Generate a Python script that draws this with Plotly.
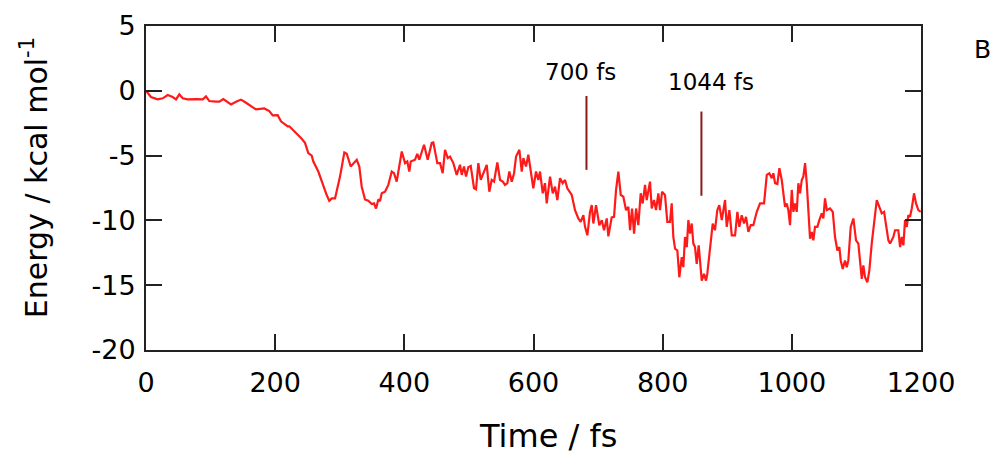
import plotly.graph_objects as go

# Time (fs) and energy (kcal/mol)
time_fs = [0, 7.7, 18.1, 25.9, 33.6, 41.3, 46.5, 51.6, 56.8, 64.6, 77.4, 87.8, 92.9, 98.0, 108.4, 113.5,
           119.7, 126.5, 131.6, 139.4, 147.1, 154.9, 162.6, 170.3, 183.2, 190.9, 196.2, 203.9, 209.0, 214.2,
           219.4, 221.9, 227.2, 234.9, 240.0,
           246.2, 251.3, 256.6, 259.1, 266.8, 274.6, 279.8, 283.8, 287.6, 292.7, 300.4, 307.1, 310.8, 317.0,
           321.0, 326.3, 330.3, 334.0, 339.1, 344.2, 349.5, 353.1, 356.2, 359.7, 362.4, 365.0, 370.1, 375.2,
           380.5, 384.0, 388.2, 396.0, 401.1, 404.6, 407.7, 409.9, 416.5, 420.1, 423.2, 430.5, 436.2, 442.4,
           444.9, 451.1, 455.3, 459.4, 463.0, 467.2, 470.7, 475.9, 481.1,
           486.2, 488.9, 492.4, 495.5, 499.1, 502.8, 507.9, 511.0, 514.6, 518.3, 523.4, 527.6, 531.6, 535.3,
           538.9, 544.0, 548.2, 552.4, 555.9, 559.5, 562.6, 566.3, 569.9, 573.0, 578.1, 581.8, 584.3, 588.4,
           592.0, 595.7, 599.7, 603.9, 607.5, 610.1, 614.3, 617.8, 620.5, 625.6, 629.8, 633.3, 636.9, 641.1,
           645.2, 648.8, 652.4, 659.2, 664.3, 669.4, 673.1, 677.2, 679.8, 683.4, 687.5, 690.2, 692.7, 696.8,
           701.9, 705.7, 709.2, 713.4, 715.9, 721.1, 724.7, 727.8, 731.4, 735.1, 739.1, 743.3, 746.9,
           749.5, 752.6, 755.7, 758.8, 762.3, 766.0, 769.1, 772.7, 775.3, 780.4, 783.1, 786.6, 789.7, 793.3,
           795.9, 799.0, 803.6, 807.2, 811.4, 814.0, 816.5, 819.2, 822.7, 825.8, 829.5, 832.0, 834.6, 837.3,
           839.8, 842.4, 845.0, 847.5, 850.1, 852.7, 855.8, 857.8, 860.5, 864.0, 867.1, 869.1, 873.3, 877.5,
           881.0, 884.6, 887.7, 891.5, 896.6, 899.2, 903.3, 907.0, 912.1, 915.7, 918.7, 922.4, 926.0, 929.1,
           932.7, 936.4, 940.4, 945.7, 950.8, 957.0, 961.2, 965.2, 968.9, 971.4, 974.0, 977.6, 980.7,
           984.4, 986.9, 989.5, 992.1, 994.6, 997.2, 999.9, 1002.4, 1005.0, 1007.6, 1010.1, 1012.7, 1015.4,
           1017.8, 1020.5, 1023.1, 1025.6, 1028.2, 1030.8, 1033.3, 1035.9, 1039.5, 1042.6, 1046.3, 1048.8,
           1051.4, 1054.1, 1059.2, 1063.4, 1066.9, 1070.5, 1073.6, 1075.7, 1078.8, 1082.4, 1085.0, 1087.5,
           1091.2, 1095.3, 1099.4, 1103.0, 1105.6, 1108.3, 1110.7, 1113.4, 1116.9, 1120.0, 1123.7, 1127.3,
           1131.5, 1135.5, 1139.2, 1142.8, 1145.9, 1149.5, 1152.1, 1157.2, 1159.8, 1164.9, 1167.6, 1170.2,
           1172.7, 1175.3, 1178.0, 1180.4, 1183.0, 1185.7, 1189.2, 1192.3, 1195.9, 1199.6]

energy = [0, -0.48, -0.66, -0.58, -0.33, -0.48, -0.66, -0.27, -0.58, -0.66, -0.64, -0.66, -0.43, -0.79, -0.84, -0.84,
          -0.64, -0.84, -1.05, -0.84, -0.68, -0.92, -1.18, -1.44, -1.36, -1.57, -1.90, -1.88, -2.35, -2.55,
          -2.74, -2.74, -2.99, -3.38, -3.64,
          -4.02, -4.80, -5.01, -5.46, -6.23, -7.40, -8.04, -8.49, -8.30, -8.30, -6.62, -4.76, -4.86, -5.84,
          -5.58, -5.32, -5.84, -7.40, -8.38, -8.48, -8.74, -8.69, -9.08, -8.38, -8.51, -7.91, -7.79, -7.26,
          -6.23, -6.36, -7.01, -4.68, -5.58, -5.45, -6.23, -5.45, -5.32, -4.86, -5.32, -4.16, -5.32, -4.02,
          -3.98, -5.58, -5.58, -6.36, -4.55, -5.19, -5.07, -5.58, -6.49,
          -5.71, -6.49, -5.84, -6.62, -5.89, -5.79, -7.52, -7.60, -5.58, -6.88, -6.23, -5.71, -7.79, -6.88,
          -7.01, -5.53, -6.88, -7.01, -7.26, -7.13, -6.23, -7.01, -6.36, -5.07, -4.55, -6.23, -5.19, -5.84,
          -4.93, -6.10, -7.52, -6.23, -6.88, -6.23, -7.91, -7.13, -8.69, -6.62, -7.91, -7.40, -8.43, -6.74,
          -7.13, -6.88, -7.52, -8.04, -9.21, -9.85, -10.12, -9.60, -10.50, -11.15, -9.34, -8.82, -10.24, -8.82,
          -10.37, -9.98, -10.76, -9.85, -11.23, -9.77, -9.73, -7.65, -6.23, -8.04, -8.17, -9.21, -8.95,
          -10.76, -9.08, -11.02, -9.08, -10.37, -7.91, -8.69, -7.26, -8.43, -7.01, -9.08, -8.43, -9.21, -7.91,
          -9.21, -7.79, -8.04, -10.12, -10.12, -8.69, -11.28, -12.18, -12.32, -14.39, -12.84, -13.61, -11.28, -12.06,
          -9.98, -11.02, -10.24, -11.79, -12.06, -13.35, -11.93, -13.09, -14.65, -14.13, -14.65, -14.13, -12.06, -10.24,
          -10.76, -9.21, -8.82, -9.98, -8.43, -10.50, -9.21, -11.15, -11.15, -9.34, -10.50, -9.60, -10.24, -9.73,
          -10.89, -10.37, -10.37, -9.34, -8.69, -8.69, -6.49, -6.36, -6.74, -6.36, -7.13, -7.19, -5.97,
          -6.88, -7.91, -8.95, -8.69, -9.21, -10.37, -7.65, -9.34, -8.69, -9.34, -7.13, -7.91, -6.88,
          -6.62, -5.58, -7.13, -8.95, -11.41, -10.89, -11.54, -10.50, -10.50, -9.98, -9.46, -9.85,
          -8.30, -9.21, -9.08, -9.34, -11.28, -12.32, -12.06, -13.09, -13.74, -13.09, -13.61, -13.09,
          -10.50, -9.85, -11.54, -11.79, -13.09, -14.51, -13.48, -14.39, -14.78, -13.87, -11.79, -9.98,
          -8.43, -8.95, -9.46, -9.34, -10.24, -11.54, -11.79, -11.28, -10.76, -10.76, -12.06, -11.28,
          -11.93, -9.98, -10.50, -9.60, -9.73, -9.08, -7.91, -8.69, -9.21, -9.34]

# Event markers
marker_times = [682, 860]
marker_top = [-0.4, -1.6]
marker_bottom = [-6.1, -8.1]
marker_labels = ["700 fs", "1044 fs"]
marker_label_x = [672, 875]
marker_label_y = [1.45, 0.65]

x_ticks = [0, 200, 400, 600, 800, 1000, 1200]
x_tick_labels = ["0", "200", "400", "600", "800", "1000", "1200"]
y_ticks = [5, 0, -5, -10, -15, -20]
y_tick_labels = ["5", "0", "-5", "-10", "-15", "-20"]

FONT = "DejaVu Sans"

fig = go.Figure()
fig.add_trace(go.Scatter(x=time_fs, y=energy, mode="lines",
                         line=dict(color="#ff1a1a", width=2.2), showlegend=False, hoverinfo="skip"))

for t, top, bot in zip(marker_times, marker_top, marker_bottom):
    fig.add_trace(go.Scatter(x=[t, t], y=[top, bot], mode="lines",
                             line=dict(color="#8b1a1a", width=2), showlegend=False, hoverinfo="skip"))

annotations = []
for lab, lx, ly in zip(marker_labels, marker_label_x, marker_label_y):
    annotations.append(dict(x=lx, y=ly, xref="x", yref="y", text=lab, showarrow=False,
                            xanchor="center", yanchor="middle",
                            font=dict(family=FONT, size=23, color="black")))
annotations.append(dict(x=0.519, y=-0.265, xref="paper", yref="paper", text="Time / fs",
                        showarrow=False, xanchor="center", yanchor="middle",
                        font=dict(family=FONT, size=32, color="black")))
annotations.append(dict(x=-0.143, y=0.531, xref="paper", yref="paper",
                        text="Energy / kcal mol<sup>-1</sup>", textangle=-90,
                        showarrow=False, xanchor="center", yanchor="middle",
                        font=dict(family=FONT, size=30, color="black")))
annotations.append(dict(x=1.079, y=0.926, xref="paper", yref="paper", text="B",
                        showarrow=False, xanchor="center", yanchor="middle",
                        font=dict(family=FONT, size=25, color="black")))

axis_common = dict(showgrid=False, zeroline=False, showline=True, linecolor="#222222", linewidth=2,
                   mirror="ticks", ticks="inside", ticklen=16, tickwidth=2, tickcolor="#222222",
                   automargin=False,
                   tickfont=dict(family=FONT, size=27, color="black"))

fig.update_layout(
    width=995, height=454,
    margin=dict(l=146, r=74, t=26, b=104),
    paper_bgcolor="white", plot_bgcolor="white",
    xaxis=dict(range=[0, 1200], tickvals=x_ticks, ticktext=x_tick_labels,
               ticklabelstandoff=8, **axis_common),
    yaxis=dict(range=[-20, 5], tickvals=y_ticks, ticktext=y_tick_labels,
               ticklabelstandoff=3, **axis_common),
    annotations=annotations,
)

# Remove the default page margin so the figure fills the 995x454 window exactly.
fig.write_html("out.html",
               config={"displayModeBar": False},
               post_script="document.body.style.margin='0';document.body.style.overflow='hidden';")
